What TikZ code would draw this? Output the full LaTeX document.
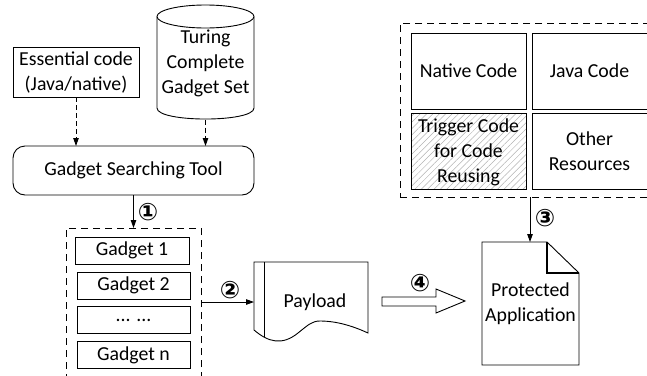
\documentclass[tikz,border=0pt]{standalone}
\usepackage{fontspec}
\setmainfont{Carlito}
\newfontfamily\circfont{DejaVu Sans}
\usetikzlibrary{arrows.meta,patterns.meta}
\begin{document}
\begin{tikzpicture}[x=1pt,y=-1pt,
  box/.style={draw=black, line width=0.9pt, rectangle, inner sep=0pt, outer sep=0pt, align=center, font=\fontsize{19.8}{25}\selectfont},
  plain/.style={inner sep=0pt, outer sep=0pt, align=center, font=\fontsize{19.8}{25}\selectfont},
  dbox/.style={draw=black, line width=0.9pt, dash pattern=on 7pt off 5pt, rectangle, inner sep=0pt, outer sep=0pt},
  arr/.style={-{Triangle[length=8pt,width=5.5pt]}, line width=0.9pt},
  darr/.style={arr, dash pattern=on 5pt off 3pt},
  num/.style={font=\circfont\bfseries\fontsize{24}{24}\selectfont, inner sep=0pt},
  shp/.style={draw=black, line width=0.9pt, fill=white}
]
\useasboundingbox (0,0) rectangle (647,375);
\clip (0,0) rectangle (647,375);

% Essential code
\node[box, minimum width=126pt, minimum height=50pt] (ess) at (76,72) {Essential code\\(Java/native)};

% Cylinder
\draw[shp] (157,16.5) -- (157,108) .. controls (157,122.7) and (254,122.7) .. (254,108) -- (254,16.5);
\draw[shp] (205.5,16.5) ellipse [x radius=48.5pt, y radius=11.5pt];
\node[plain] (tcg) at (205.5,63) {Turing\\Complete\\Gadget Set};
\coordinate (tcgb) at (205.5,119.5);

% Gadget Searching Tool
\node[box, rounded corners=12pt, minimum width=241pt, minimum height=49pt] (gst) at (133.5,170.5) {Gadget Searching Tool};

\draw[darr] (ess.south) -- (ess.south |- gst.north);
\draw[darr] (tcgb) -- (tcgb |- gst.north);

% Gadget list
\node[dbox, minimum width=135pt, minimum height=148pt] (gbox) at (133.5,302) {};
\node[box, minimum width=114pt, minimum height=27pt] (g1) at (132,250.5) {Gadget 1};
\node[box, minimum width=113pt, minimum height=27pt] (g2) at (133.5,285.5) {Gadget 2};
\node[box, minimum width=113pt, minimum height=27pt] (g3) at (133.5,320) {... ...};
\node[box, minimum width=113pt, minimum height=27pt] (gn) at (133.5,355) {Gadget n};

\draw[arr] (gst.south) -- (gbox.north);
\node[num] (n1) at (148,212) {①};

% Payload
\draw[shp] (254,262) -- (368,262) -- (368,333)
  .. controls (355,327) and (338,321) .. (320,321)
  .. controls (312,321) and (308,325) .. (298,333)
  .. controls (282,346) and (268,342) .. (254,330) -- cycle;
\draw[line width=0.9pt] (264,262) -- (264,337);
\node[plain, minimum width=114pt, minimum height=68pt] (payload) at (311,296) {};
\node[plain] (ptxt) at (315,302) {Payload};

\draw[arr] (gbox.east) -- (gbox.east -| payload.west);
\node[num] (n2) at (230,290) {②};

% Top right resources
\node[dbox, minimum width=260pt, minimum height=174pt] (res) at (530,110) {};
\node[box, minimum width=115pt, minimum height=76pt] (nat) at (468.5,71) {Native Code};
\node[box, minimum width=115pt, minimum height=76pt] (jav) at (589.5,71) {Java Code};
\node[box, minimum width=115pt, minimum height=76pt, pattern={Lines[angle=45,distance=4.5pt,line width=0.5pt]}, pattern color=gray!60] (trg) at (468.5,151) {};
\node[plain] (trgt) at (468.5,152) {Trigger Code\\for Code\\Reusing};
\node[box, minimum width=115pt, minimum height=76pt] (oth) at (589.5,151) {Other\\Resources};

% Protected application
\draw[shp] (482,242) -- (547,242) -- (579,273) -- (579,365) -- (482,365) -- cycle;
\draw[line width=1.8pt, line join=miter] (547,242) -- (547,273) -- (579,273);
\node[plain, minimum width=97pt, minimum height=123pt] (prot) at (530.5,303.5) {Protected\\Application};

\draw[arr] (res.south) -- (res.south |- prot.north);
\node[num] (n3) at (545,218) {③};

% Block arrow 4
\draw[line width=0.9pt, fill=white] (382,297) -- (436,297) -- (436,289) -- (465,301) -- (436,313) -- (436,306) -- (382,306) -- cycle;
\node[num] (n4) at (420,283) {④};

\end{tikzpicture}
\end{document}
